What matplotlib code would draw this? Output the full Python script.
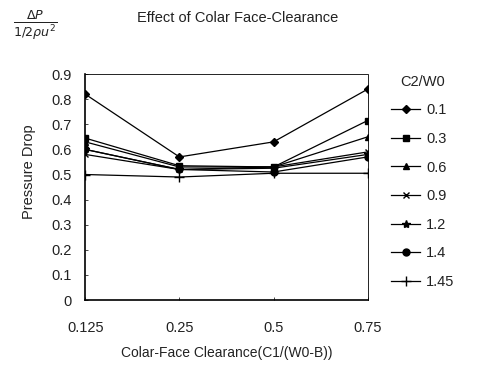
import matplotlib
matplotlib.use("Agg")
import matplotlib.pyplot as plt

plt.rcParams['font.family'] = ['Liberation Sans', 'DejaVu Sans']

clearance = ["0.125", "0.25", "0.5", "0.75"]
series_labels = ["0.1", "0.3", "0.6", "0.9", "1.2", "1.4", "1.45"]
series_values = [
    [0.82, 0.57, 0.63, 0.84],
    [0.645, 0.535, 0.53, 0.715],
    [0.63, 0.53, 0.53, 0.65],
    [0.58, 0.52, 0.53, 0.59],
    [0.60, 0.52, 0.525, 0.58],
    [0.60, 0.52, 0.51, 0.57],
    [0.50, 0.49, 0.505, 0.505],
]
markers = ["D", "s", "^", "x", "*", "o", "+"]
msizes = [4, 5, 5, 5, 6, 5, 7]

fig = plt.figure(figsize=(4.87, 3.65), dpi=100)
ax = fig.add_axes([0.175, 0.178, 0.580, 0.619])

xs = range(len(clearance))
for lab, vals, m, ms in zip(series_labels, series_values, markers, msizes):
    ax.plot(xs, vals, color="black", lw=0.9, marker=m, markersize=ms,
            markeredgewidth=1.0, label=lab)

ax.set_xlim(0, len(clearance) - 1)
ax.set_ylim(0, 0.9)
ax.set_xticks(list(xs))
ax.set_xticklabels(clearance)
yt = [i / 10 for i in range(10)]
ax.set_yticks(yt)
ax.set_yticklabels(["0"] + [f"{v:.1f}" for v in yt[1:]])
ax.tick_params(direction="in", length=2, width=0.5, labelsize=10.5,
               labelcolor="#222222")
ax.tick_params(axis="x", pad=15)
ax.tick_params(axis="y", pad=10)

for side in ["left", "bottom"]:
    ax.spines[side].set_linewidth(1.2)
for side in ["top", "right"]:
    ax.spines[side].set_linewidth(0.6)
    ax.spines[side].set_linestyle((0, (3, 1)))

ax.set_xlabel("Colar-Face Clearance(C1/(W0-B))", fontsize=10, color="#222222", labelpad=8)
ax.set_ylabel("Pressure Drop", fontsize=10.5, color="#222222")
ax.yaxis.set_label_coords(-0.175, 0.57)
fig.text(0.487, 0.95, "Effect of Colar Face-Clearance", fontsize=10.5, color="#222222",
         ha="center", va="center")
fig.text(0.072, 0.93, r"$\frac{\Delta P}{1/2\rho u^2}$", fontsize=13, color="#222222",
         ha="center", va="center")

leg = ax.legend(title="C2/W0", loc="upper left", bbox_to_anchor=(0.803, 0.795),
                bbox_transform=fig.transFigure,
                frameon=False, fontsize=10.5, title_fontsize=10.5,
                handlelength=2.0, handletextpad=0.4, labelspacing=1.0,
                borderaxespad=0.0, borderpad=0.0)
for t in leg.get_texts():
    t.set_color("#222222")
leg.get_title().set_color("#222222")

fig.savefig("out.png", dpi=100)
